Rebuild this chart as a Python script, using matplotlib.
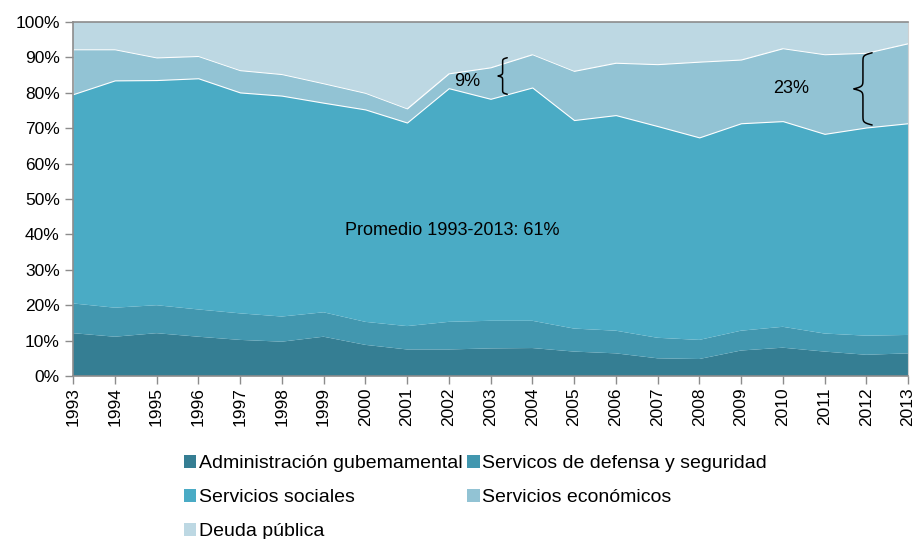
import numpy as np
import matplotlib.pyplot as plt

plt.rcParams['font.family'] = ['Liberation Sans', 'DejaVu Sans']

years = list(range(1993, 2014))

# porcentaje del gasto total por función
admin = [12.1, 11.1, 12.1, 11.1, 10.2, 9.7, 11.1, 8.8, 7.5, 7.5, 7.8,
         7.9, 6.9, 6.4, 5.0, 4.8, 7.2, 8.0, 6.9, 6.0, 6.4]
defensa = [8.4, 8.2, 7.9, 7.7, 7.5, 7.1, 6.9, 6.5, 6.6, 7.8, 7.8,
           7.7, 6.5, 6.4, 5.8, 5.4, 5.6, 5.9, 5.1, 5.4, 5.2]
sociales = [59.1, 64.2, 63.6, 65.3, 62.4, 62.4, 59.2, 60.0, 57.5, 66.0, 62.7,
            65.9, 58.9, 60.9, 59.8, 57.2, 58.6, 58.1, 56.4, 58.8, 59.8]
economicos = [12.7, 8.8, 6.4, 6.3, 6.3, 6.1, 5.5, 4.7, 4.0, 4.2, 8.9,
              9.4, 13.9, 14.8, 17.5, 21.4, 18.0, 20.6, 22.5, 21.1, 22.6]
deuda = [7.7, 7.7, 10.0, 9.6, 13.6, 14.7, 17.3, 20.0, 24.4, 14.5, 12.8,
         9.1, 13.8, 11.5, 11.9, 11.2, 10.6, 7.4, 9.1, 8.7, 6.0]

labels = ['Administración gubemamental', 'Servicos de defensa y seguridad',
          'Servicios sociales', 'Servicios económicos', 'Deuda pública']
colors = ['#357e93', '#4297af', '#4aabc5', '#92c3d4', '#bdd8e3']


def brace(ax, x_tip, x_end, y0, y1, beta=60.0):
    # llave "{" vertical con la punta hacia la izquierda
    u = np.linspace(0, 0.5, 60)
    half = 1 / (1 + np.exp(-beta * (u - u[0]))) + 1 / (1 + np.exp(-beta * (u - u[-1])))
    v = np.concatenate([half, half[-2::-1]])
    yy = np.linspace(y0, y1, len(v))
    xx = x_end - (v - 0.5) * (x_end - x_tip)
    ax.plot(xx, yy, color='black', lw=1.1, solid_capstyle='round')


fig = plt.figure(figsize=(9.16, 5.39), dpi=100)
ax = fig.add_axes([0.0797, 0.3024, 0.9116, 0.6568])

polys = ax.stackplot(years, admin, defensa, sociales, economicos, deuda,
                     colors=colors, labels=labels, linewidth=0)
polys[3].set_edgecolor('white')
polys[3].set_linewidth(0.8)

ax.set_xlim(1993, 2013)
ax.set_ylim(0, 100)
ax.set_yticks(np.arange(0, 101, 10))
ax.set_yticklabels([f'{v}%' for v in range(0, 101, 10)], fontsize=12.5)
ax.set_xticks(years)
ax.set_xticklabels([str(y) for y in years], rotation=90, fontsize=12.5)
ax.tick_params(axis='both', direction='out', length=6, color='#8c8c8c', width=1)
ax.tick_params(axis='x', pad=2)

for side in ['left', 'bottom', 'top']:
    ax.spines[side].set_color('#8c8c8c')
    ax.spines[side].set_linewidth(1.2)
ax.spines['right'].set_color('#d0d0d0')
ax.spines['right'].set_linewidth(0.8)

# anotaciones
ax.text(2002.08, 41.0, 'Promedio 1993-2013: 61%', fontsize=13, ha='center', va='center')
ax.text(2002.45, 83.3, '9%', fontsize=13, ha='center', va='center')
brace(ax, 2003.18, 2003.40, 79.6, 89.9)
ax.text(2010.2, 81.2, '23%', fontsize=13, ha='center', va='center')
brace(ax, 2011.70, 2012.14, 70.9, 91.3)

# leyenda por filas: dos columnas
order = [0, 2, 4, 1, 3]
handles = [polys[i] for i in order]
leg = fig.legend(handles, [labels[i] for i in order], ncol=2,
                 loc='upper left', bbox_to_anchor=(0.19, 0.174),
                 frameon=False, fontsize=14, handlelength=0.65, handleheight=0.65,
                 handletextpad=0.12, columnspacing=0.25, labelspacing=0.86,
                 borderpad=0)
for h in leg.legend_handles:
    h.set_edgecolor('none')

fig.savefig('out.png', dpi=100)
